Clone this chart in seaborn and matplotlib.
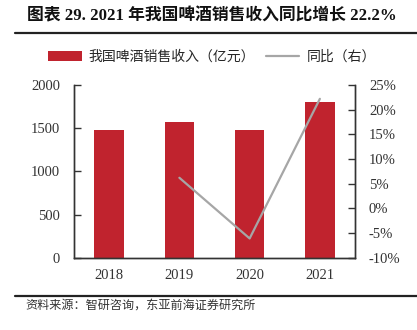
import numpy as np
import pandas as pd
import matplotlib
matplotlib.use("Agg")
import matplotlib.pyplot as plt
from matplotlib.patches import Patch
from matplotlib.lines import Line2D
import seaborn as sns

years = ["2018", "2019", "2020", "2021"]
revenue = [1480, 1570, 1477, 1800]
yoy = [np.nan, 6.2, -6.1, 22.2]
left_ticks = [0, 500, 1000, 1500, 2000]
right_ticks = [-10, -5, 0, 5, 10, 15, 20, 25]

title = "图表 29. 2021 年我国啤酒销售收入同比增长 22.2%"
bar_label = "我国啤酒销售收入（亿元）"
line_label = "同比（右）"
source = "资料来源：智研咨询，东亚前海证券研究所"

sns.set_theme(style="white")
plt.rcParams["font.family"] = ["Liberation Serif", "Noto Sans CJK SC", "DejaVu Sans"]

RED = "#C0232E"
GRAY = "#A6A6A6"
DARK = "#333333"

df = pd.DataFrame({"year": years, "revenue": revenue, "yoy": yoy})
df["pos"] = np.arange(len(years))

fig = plt.figure(figsize=(4.17, 3.30), dpi=100)
ax = fig.add_axes([74 / 417, 1 - 257.7 / 330, (355 - 74) / 417, (257.7 - 85) / 330])

sns.barplot(data=df, x="year", y="revenue", color=RED, width=0.42, ax=ax,
            saturation=1, edgecolor="none")
ax.set_xlim(-0.5, 3.5)
ax.set_ylim(0, 2000)
ax.set_yticks(left_ticks)
ax.set_yticklabels([str(v) for v in left_ticks])
ax.set_xlabel("")
ax.set_ylabel("")

ax2 = ax.twinx()
sns.lineplot(data=df, x="pos", y="yoy", color=GRAY, linewidth=1.6, ax=ax2)
ax2.set_ylim(-10, 25)
ax2.set_yticks(right_ticks)
ax2.set_yticklabels([f"{v}%" for v in right_ticks])
ax2.set_xlim(-0.5, 3.5)
ax2.set_ylabel("")
ax2.set_xlabel("")

for a in (ax, ax2):
    for s in ("left", "right", "bottom"):
        a.spines[s].set_visible(True)
        a.spines[s].set_color(DARK)
        a.spines[s].set_linewidth(1.0)
    a.spines["top"].set_visible(False)
    a.grid(False)

ax.tick_params(axis="y", direction="in", length=5, width=1, color=DARK,
               labelsize=10.5, labelcolor=DARK, pad=10, left=True)
ax.tick_params(axis="x", length=0, labelsize=10.5, labelcolor=DARK, pad=8)
ax2.tick_params(axis="y", direction="in", length=5, width=1, color=DARK,
                labelsize=10.5, labelcolor=DARK, pad=10, right=True)
ax2.tick_params(axis="x", length=0)

handles = [Patch(facecolor=RED, edgecolor="none", label=bar_label),
           Line2D([0], [0], color=GRAY, linewidth=1.6, label=line_label)]
fig.legend(handles=handles, loc="center", bbox_to_anchor=(212 / 417, 1 - 57 / 330),
           ncol=2, frameon=False, handlelength=2.4, handletextpad=0.5,
           columnspacing=0.8, prop={"family": ["Noto Sans CJK SC"], "size": 10})

fig.text(27 / 417, 1 - 16 / 330, title, fontsize=12.1, fontweight="bold",
         ha="left", va="center", color="#111111")
fig.add_artist(Line2D([15 / 417, 1.0], [1 - 32.5 / 330, 1 - 32.5 / 330],
                      color="#222222", linewidth=1.6, transform=fig.transFigure))
fig.add_artist(Line2D([15 / 417, 1.0], [1 - 296 / 330, 1 - 296 / 330],
                      color="#222222", linewidth=1.6, transform=fig.transFigure))
fig.text(25 / 417, 1 - 305 / 330, source, fontsize=8.7, ha="left", va="center",
         color="#333333", family=["Noto Sans CJK SC"])

fig.savefig("out.png", dpi=100)
